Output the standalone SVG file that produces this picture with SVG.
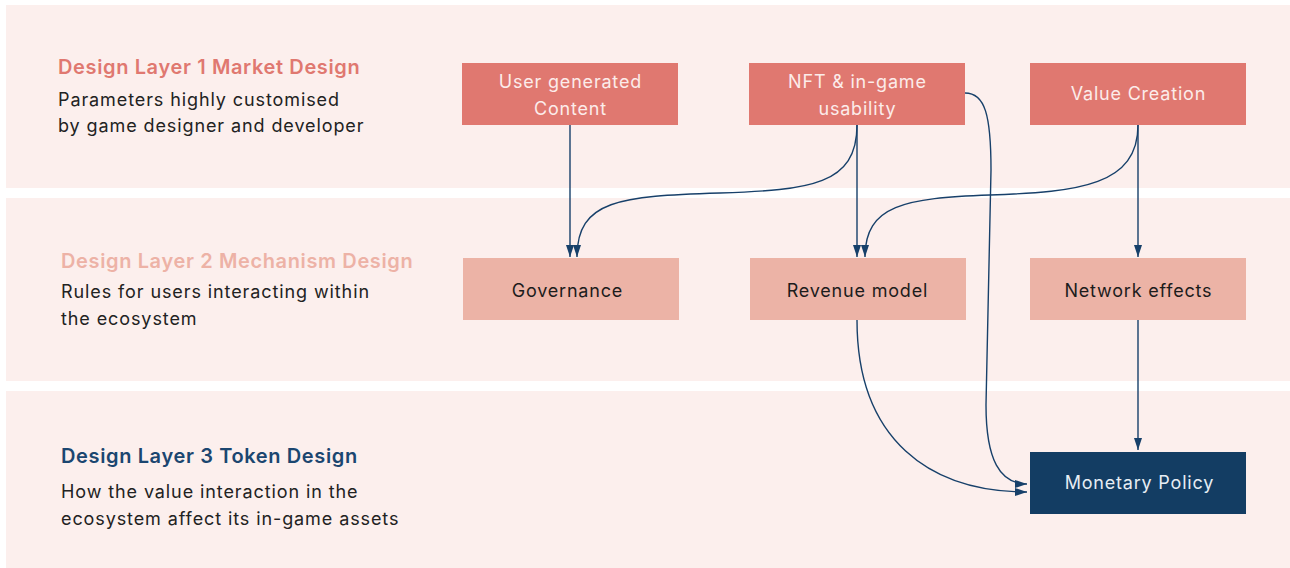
<svg xmlns="http://www.w3.org/2000/svg" width="1290" height="568" viewBox="0 0 1290 568">
<style>
.band{fill:#fcefed}
.top{fill:#e07870}
.mid{fill:#ecb3a6}
.mon{fill:#133d63}
.t{font-family:Inter,"Open Sans","Liberation Sans",sans-serif}
.h{font-size:20px;font-weight:600;letter-spacing:0.63px}
.b{font-size:18px;fill:#222;letter-spacing:0.9px}
.n{font-size:18px;text-anchor:middle;letter-spacing:0.8px}
.nw{fill:#fcecea}
.nd{fill:#1c1c1c}
.nm{fill:#e6edf4}
.c{fill:none;stroke:#17406a;stroke-width:1.4}
</style>
<defs>
<marker id="ah" markerWidth="12" markerHeight="8" refX="12" refY="4" orient="auto" markerUnits="userSpaceOnUse">
<path d="M0,0 L12,4 L0,8 Z" fill="#17406a"/>
</marker>
</defs>
<g id="bands">
<rect class="band" x="6" y="5" width="1284" height="183"/>
<rect class="band" x="6" y="198" width="1284" height="183"/>
<rect class="band" x="6" y="391" width="1284" height="177"/>
</g>
<g id="layer1-label" class="t">
<text class="h" x="58" y="74" fill="#e07870">Design Layer 1 Market Design</text>
<text class="b" x="58" y="106">Parameters highly customised</text>
<text class="b" x="58" y="132">by game designer and developer</text>
</g>
<g id="layer2-label" class="t">
<text class="h" x="61" y="268" fill="#edb2a6">Design Layer 2 Mechanism Design</text>
<text class="b" x="61" y="298">Rules for users interacting within</text>
<text class="b" x="61" y="325">the ecosystem</text>
</g>
<g id="layer3-label" class="t">
<text class="h" x="61" y="463" fill="#1b4670">Design Layer 3 Token Design</text>
<text class="b" x="61" y="498">How the value interaction in the</text>
<text class="b" x="61" y="525">ecosystem affect its in-game assets</text>
</g>
<g id="ugc">
<rect class="top" x="462" y="63" width="216" height="62"/>
<text class="t n nw" x="570.4" y="88">User generated</text>
<text class="t n nw" x="570.4" y="115">Content</text>
</g>
<g id="nft">
<rect class="top" x="749" y="63" width="216" height="62"/>
<text class="t n nw" x="857.4" y="88">NFT &amp; in-game</text>
<text class="t n nw" x="857.4" y="115">usability</text>
</g>
<g id="value">
<rect class="top" x="1030" y="63" width="216" height="62"/>
<text class="t n nw" x="1138.4" y="100">Value Creation</text>
</g>
<g id="governance">
<rect class="mid" x="463" y="258" width="216" height="62"/>
<text class="t n nd" x="567.4" y="297">Governance</text>
</g>
<g id="revenue">
<rect class="mid" x="750" y="258" width="216" height="62"/>
<text class="t n nd" x="857.4" y="297">Revenue model</text>
</g>
<g id="network">
<rect class="mid" x="1030" y="258" width="216" height="62"/>
<text class="t n nd" x="1138.4" y="297">Network effects</text>
</g>
<g id="monetary">
<rect class="mon" x="1030" y="452" width="216" height="62"/>
<text class="t n nm" x="1139.4" y="489">Monetary Policy</text>
</g>
<g id="connectors">
<path class="c" marker-end="url(#ah)" d="M570,125 L570,257"/>
<path class="c" marker-end="url(#ah)" d="M857,125 C857,185 810,190 720,193 C620,196 577,200 577,257"/>
<path class="c" marker-end="url(#ah)" d="M857,125 L857,257"/>
<path class="c" marker-end="url(#ah)" d="M1138,125 C1138,185 1080,192 990,195 C905,198 865,205 865,257"/>
<path class="c" marker-end="url(#ah)" d="M1138,125 L1138,257"/>
<path class="c" marker-end="url(#ah)" d="M965,93 C985,93 991,115 991,170 L986,405 C986,460 1000,484 1027,484"/>
<path class="c" marker-end="url(#ah)" d="M857,320 C857,440 930,492 1027,492"/>
<path class="c" marker-end="url(#ah)" d="M1138,320 L1138,450"/>
</g>
</svg>
